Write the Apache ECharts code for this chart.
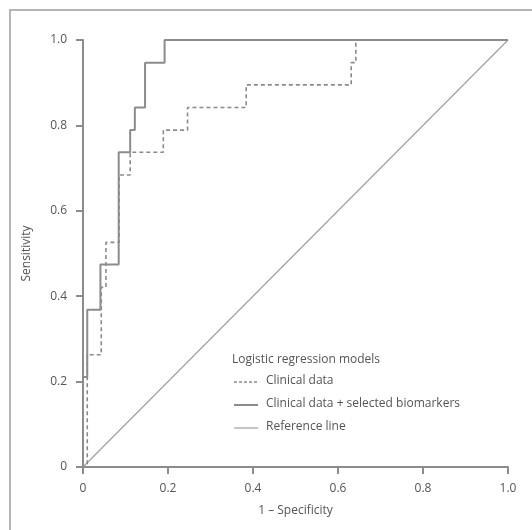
<!DOCTYPE html>
<html>
<head>
<meta charset="utf-8">
<script src="https://cdn.jsdelivr.net/npm/echarts@6/dist/echarts.min.js"></script>
<style>
  html, body { margin: 0; padding: 0; background: #fff; }
  #chart { width: 532px; height: 530px; }
</style>
</head>
<body>
<div id="chart"></div>
<script>
// ROC corners (1 - specificity, sensitivity)
var fprClinical = [0, 0.01, 0.01, 0.043, 0.043, 0.054, 0.054, 0.085, 0.085, 0.111, 0.111, 0.189, 0.189, 0.246, 0.246, 0.384, 0.384, 0.631, 0.631, 0.642, 0.642, 1];
var tprClinical = [0, 0, 0.263, 0.263, 0.421, 0.421, 0.526, 0.526, 0.684, 0.684, 0.737, 0.737, 0.789, 0.789, 0.842, 0.842, 0.895, 0.895, 0.947, 0.947, 1, 1];

var fprBio = [0, 0, 0.01, 0.01, 0.041, 0.041, 0.084, 0.084, 0.111, 0.111, 0.122, 0.122, 0.146, 0.146, 0.192, 0.192, 1];
var tprBio = [0, 0.211, 0.211, 0.368, 0.368, 0.474, 0.474, 0.737, 0.737, 0.789, 0.789, 0.842, 0.842, 0.947, 0.947, 1, 1];

var fprRef = [0, 1];
var tprRef = [0, 1];

var seriesNames = ['Clinical data', 'Clinical data + selected biomarkers', 'Reference line'];

function pairs(xs, ys) {
    var out = [];
    for (var i = 0; i < xs.length; i++) {
        out.push([xs[i], ys[i]]);
    }
    return out;
}

var chart = echarts.init(document.getElementById('chart'));
var font = '"Open Sans", "Noto Sans", sans-serif';
var textColor = '#555';
var axisColor = '#8c8c8c';

var styles = [
    { color: '#8a8a8a', width: 1.6, type: [4, 3] },
    { color: '#8c8c8c', width: 2, type: 'solid' },
    { color: '#a0a0a0', width: 1.2, type: 'solid' }
];

function tickFmt(v) {
    return v === 0 ? '0' : v.toFixed(1);
}

// hand-drawn key, like the printed figure
var key = [{
    type: 'text',
    left: 232, top: 354,
    style: { text: 'Logistic regression models', font: '12px ' + font, fill: textColor },
    silent: true
}];
for (var k = 0; k < seriesNames.length; k++) {
    var yy = 382 + k * 23;
    key.push({
        type: 'line',
        shape: { x1: 234, y1: yy, x2: 258, y2: yy },
        style: { stroke: styles[k].color, lineWidth: styles[k].width, lineDash: k === 0 ? [3, 2] : null },
        silent: true
    });
    key.push({
        type: 'text',
        left: 266, top: yy - 7,
        style: { text: seriesNames[k], font: '12px ' + font, fill: textColor },
        silent: true
    });
}

var option = {
    animation: false,
    backgroundColor: '#fff',
    textStyle: { fontFamily: font },
    graphic: [{
        type: 'rect',
        shape: { x: 10, y: 10, width: 600, height: 600 },
        style: { fill: 'none', stroke: '#b5b5b5', lineWidth: 2 },
        silent: true
    }].concat(key),
    grid: { left: 83, right: 24, top: 40, bottom: 63 },
    xAxis: {
        type: 'value',
        min: 0, max: 1, interval: 0.2,
        name: '1 \u2013 Specificity',
        nameLocation: 'middle',
        nameGap: 38,
        nameTextStyle: { fontFamily: font, fontSize: 12, color: textColor },
        axisLine: { lineStyle: { color: axisColor, width: 2 } },
        axisTick: { length: 7, lineStyle: { color: axisColor, width: 2 } },
        axisLabel: { formatter: tickFmt, fontSize: 12, color: textColor, margin: 16 },
        splitLine: { show: false }
    },
    yAxis: {
        type: 'value',
        min: 0, max: 1, interval: 0.2,
        name: 'Sensitivity',
        nameLocation: 'middle',
        nameGap: 50,
        nameTextStyle: { fontFamily: font, fontSize: 12, color: textColor },
        axisLine: { show: true, lineStyle: { color: axisColor, width: 2 } },
        axisTick: { show: true, length: 7, lineStyle: { color: axisColor, width: 2 } },
        axisLabel: { formatter: tickFmt, fontSize: 12, color: textColor, margin: 16 },
        splitLine: { show: false }
    },
    series: seriesNames.map(function (nm, i) {
        var xs = [fprClinical, fprBio, fprRef][i];
        var ys = [tprClinical, tprBio, tprRef][i];
        return {
            name: nm,
            type: 'line',
            data: pairs(xs, ys),
            showSymbol: false,
            symbol: 'none',
            z: [3, 4, 2][i],
            lineStyle: styles[i],
            itemStyle: { color: styles[i].color }
        };
    })
};

chart.setOption(option);
</script>
</body>
</html>
